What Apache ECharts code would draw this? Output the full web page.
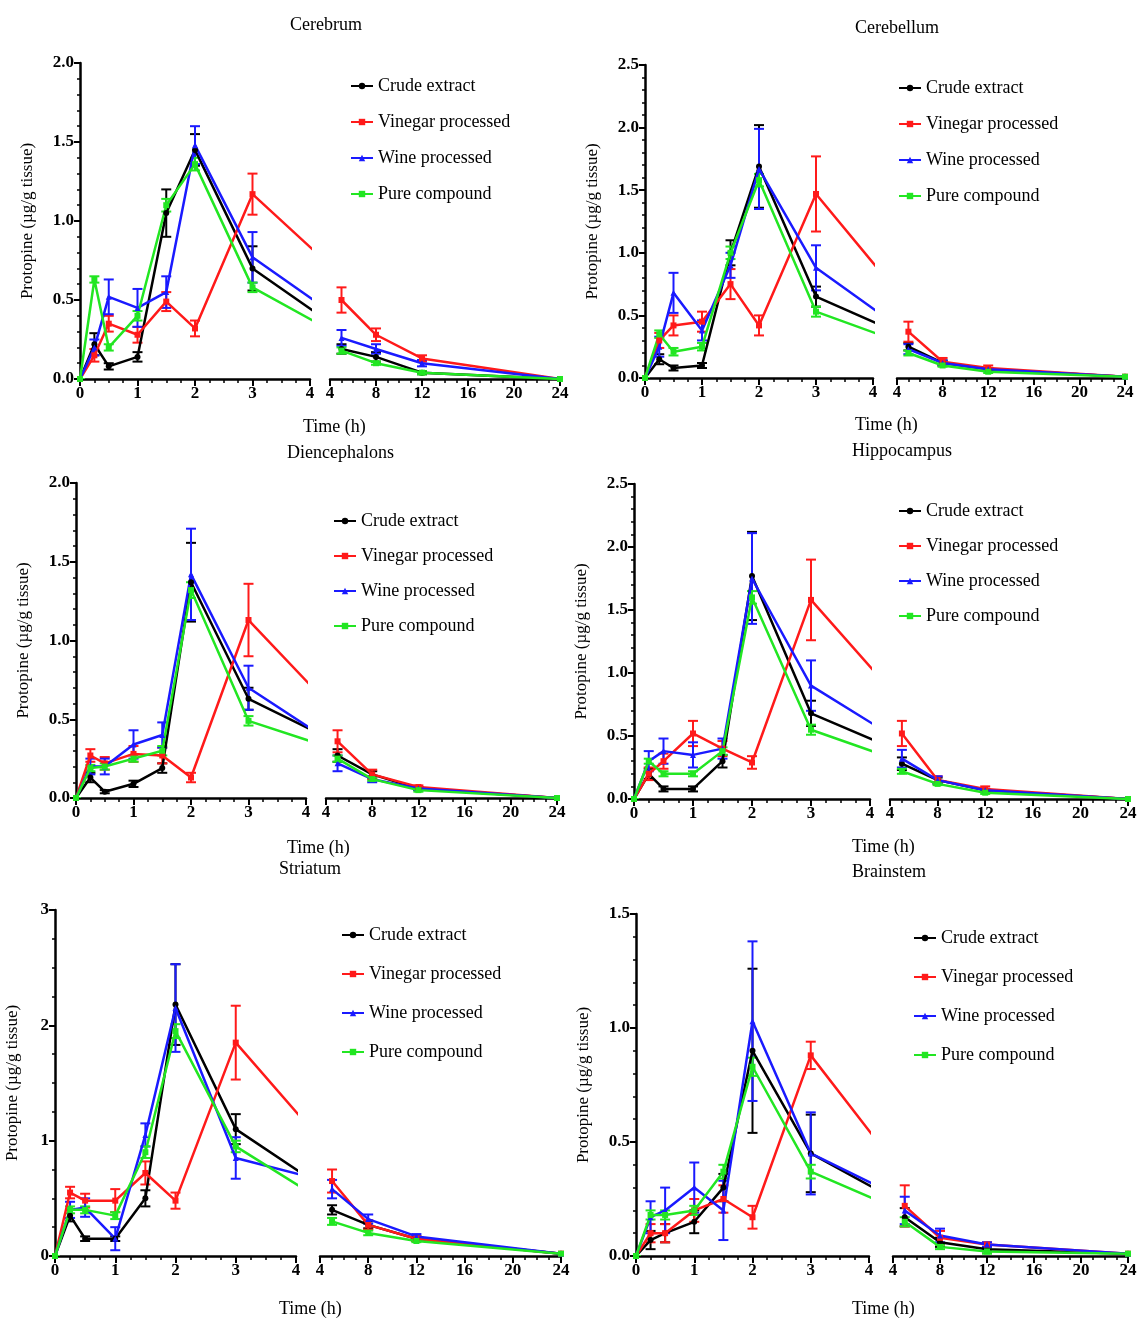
<!DOCTYPE html>
<html><head><meta charset="utf-8">
<script src="https://cdn.jsdelivr.net/npm/echarts@6/dist/echarts.min.js"></script>
<style>html,body{margin:0;padding:0;background:#fff}#c{width:1141px;height:1322px}</style>
</head><body><div id="c"></div>
<script>
const times = [0, 0.25, 0.5, 1, 1.5, 2, 3, 5, 8, 12, 24];
const seriesNames = ['Crude extract', 'Vinegar processed', 'Wine processed', 'Pure compound'];
const leftTicks = [0, 1, 2, 3, 4];
const rightTicks = [4, 8, 12, 16, 20, 24];

// rows: crude, vinegar, wine, pure
const cerebrumMean = [
  [0, 0.22, 0.08, 0.14, 1.05, 1.45, 0.7, 0.19, 0.14, 0.04, 0.0],
  [0, 0.15, 0.35, 0.28, 0.49, 0.32, 1.17, 0.5, 0.28, 0.13, 0.0],
  [0, 0.2, 0.52, 0.45, 0.55, 1.48, 0.77, 0.26, 0.19, 0.1, 0.0],
  [0, 0.63, 0.2, 0.4, 1.1, 1.36, 0.58, 0.18, 0.1, 0.04, 0.0]];
const cerebrumErr = [
  [0, 0.07, 0.02, 0.03, 0.15, 0.1, 0.14, 0.03, 0.03, 0.01, 0],
  [0, 0.04, 0.05, 0.05, 0.06, 0.05, 0.13, 0.08, 0.04, 0.02, 0],
  [0, 0.05, 0.11, 0.12, 0.1, 0.12, 0.16, 0.05, 0.03, 0.02, 0],
  [0, 0.02, 0.02, 0.03, 0.04, 0.04, 0.03, 0.02, 0.01, 0.01, 0]];
const cerebellumMean = [
  [0, 0.15, 0.08, 0.1, 1.0, 1.69, 0.65, 0.25, 0.12, 0.07, 0.01],
  [0, 0.3, 0.42, 0.45, 0.75, 0.42, 1.47, 0.37, 0.13, 0.08, 0.01],
  [0, 0.25, 0.68, 0.38, 0.9, 1.67, 0.88, 0.23, 0.12, 0.07, 0.01],
  [0, 0.35, 0.21, 0.25, 1.0, 1.58, 0.53, 0.2, 0.1, 0.05, 0.01]];
const cerebellumErr = [
  [0, 0.04, 0.02, 0.02, 0.1, 0.33, 0.08, 0.03, 0.02, 0.01, 0],
  [0, 0.06, 0.08, 0.08, 0.12, 0.08, 0.3, 0.08, 0.03, 0.02, 0],
  [0, 0.08, 0.16, 0.08, 0.1, 0.32, 0.18, 0.04, 0.02, 0.01, 0],
  [0, 0.03, 0.03, 0.03, 0.05, 0.05, 0.04, 0.02, 0.01, 0.01, 0]];
const diencephalonsMean = [
  [0, 0.13, 0.04, 0.09, 0.19, 1.37, 0.63, 0.27, 0.15, 0.06, 0.0],
  [0, 0.27, 0.22, 0.28, 0.27, 0.13, 1.13, 0.36, 0.15, 0.07, 0.0],
  [0, 0.2, 0.2, 0.34, 0.4, 1.42, 0.7, 0.22, 0.12, 0.06, 0.0],
  [0, 0.19, 0.2, 0.25, 0.3, 1.32, 0.49, 0.25, 0.12, 0.05, 0.0]];
const diencephalonsErr = [
  [0, 0.03, 0.01, 0.02, 0.03, 0.25, 0.07, 0.04, 0.02, 0.01, 0],
  [0, 0.04, 0.04, 0.05, 0.05, 0.03, 0.23, 0.07, 0.03, 0.01, 0],
  [0, 0.05, 0.05, 0.09, 0.08, 0.29, 0.14, 0.05, 0.02, 0.01, 0],
  [0, 0.02, 0.02, 0.02, 0.03, 0.05, 0.03, 0.02, 0.01, 0.01, 0]];
const hippocampusMean = [
  [0, 0.2, 0.08, 0.08, 0.3, 1.77, 0.68, 0.28, 0.15, 0.07, 0.0],
  [0, 0.2, 0.3, 0.52, 0.4, 0.29, 1.58, 0.52, 0.15, 0.08, 0.0],
  [0, 0.3, 0.38, 0.35, 0.4, 1.75, 0.9, 0.32, 0.15, 0.07, 0.0],
  [0, 0.3, 0.2, 0.2, 0.38, 1.6, 0.55, 0.22, 0.12, 0.05, 0.0]];
const hippocampusErr = [
  [0, 0.04, 0.02, 0.02, 0.05, 0.35, 0.1, 0.05, 0.02, 0.01, 0],
  [0, 0.05, 0.06, 0.1, 0.06, 0.05, 0.32, 0.1, 0.03, 0.02, 0],
  [0, 0.08, 0.1, 0.1, 0.08, 0.36, 0.2, 0.07, 0.03, 0.01, 0],
  [0, 0.02, 0.02, 0.02, 0.03, 0.05, 0.04, 0.02, 0.01, 0.01, 0]];
const striatumMean = [
  [0, 0.35, 0.15, 0.15, 0.5, 2.18, 1.1, 0.4, 0.27, 0.15, 0.02],
  [0, 0.55, 0.48, 0.48, 0.72, 0.48, 1.85, 0.65, 0.27, 0.15, 0.02],
  [0, 0.4, 0.42, 0.15, 1.05, 2.15, 0.85, 0.58, 0.32, 0.17, 0.02],
  [0, 0.4, 0.4, 0.35, 0.9, 1.95, 0.95, 0.3, 0.2, 0.13, 0.02]];
const striatumErr = [
  [0, 0.05, 0.02, 0.02, 0.07, 0.35, 0.13, 0.04, 0.03, 0.02, 0],
  [0, 0.05, 0.06, 0.1, 0.1, 0.07, 0.32, 0.1, 0.04, 0.02, 0],
  [0, 0.07, 0.08, 0.1, 0.1, 0.38, 0.18, 0.08, 0.04, 0.02, 0],
  [0, 0.03, 0.03, 0.03, 0.05, 0.06, 0.05, 0.03, 0.02, 0.01, 0]];
const brainstemMean = [
  [0, 0.07, 0.1, 0.15, 0.3, 0.9, 0.45, 0.17, 0.06, 0.03, 0.01],
  [0, 0.1, 0.1, 0.2, 0.25, 0.17, 0.88, 0.22, 0.08, 0.05, 0.01],
  [0, 0.17, 0.2, 0.3, 0.2, 1.03, 0.45, 0.2, 0.09, 0.05, 0.01],
  [0, 0.18, 0.18, 0.2, 0.37, 0.83, 0.37, 0.15, 0.04, 0.02, 0.01]];
const brainstemErr = [
  [0, 0.04, 0.04, 0.05, 0.06, 0.36, 0.17, 0.04, 0.02, 0.01, 0],
  [0, 0.04, 0.04, 0.05, 0.06, 0.05, 0.06, 0.09, 0.03, 0.01, 0],
  [0, 0.07, 0.1, 0.11, 0.13, 0.35, 0.18, 0.06, 0.03, 0.01, 0],
  [0, 0.02, 0.02, 0.02, 0.03, 0.04, 0.03, 0.02, 0.01, 0.01, 0]];

const colors = ['#000000', '#ff1a1a', '#1a1aff', '#22e622'];
const symbols = ['circle', 'rect', 'triangle', 'rect'];
const FONT = 'Liberation Serif';

const panels = [
  {title:'Cerebrum', mean:cerebrumMean, err:cerebrumErr, L:[80,310], R:[330,560], top:63, bot:379, ymax:2, iv:0.5, dec:1, tx:320, ty:16, xl:[333,418], lg:[345,72], gap:18},
  {title:'Cerebellum', mean:cerebellumMean, err:cerebellumErr, L:[645,873], R:[897,1125], top:65, bot:378, ymax:2.5, iv:0.5, dec:1, tx:885, ty:19, xl:[885,416], lg:[893,74], gap:18},
  {title:'Diencephalons', mean:diencephalonsMean, err:diencephalonsErr, L:[76,306], R:[326,557], top:483, bot:798, ymax:2, iv:0.5, dec:1, tx:317, ty:444, xl:[317,839], lg:[328,507], gap:17},
  {title:'Hippocampus', mean:hippocampusMean, err:hippocampusErr, L:[634,870], R:[890,1128], top:484, bot:799, ymax:2.5, iv:0.5, dec:1, tx:882, ty:442, xl:[882,838], lg:[893,497], gap:17},
  {title:'Striatum', mean:striatumMean, err:striatumErr, L:[55,296], R:[320,561], top:910, bot:1256, ymax:3, iv:1, dec:0, tx:309, ty:860, xl:[309,1300], lg:[336,921], gap:21},
  {title:'Brainstem', mean:brainstemMean, err:brainstemErr, L:[636,869], R:[893,1128], top:914, bot:1256, ymax:1.5, iv:0.5, dec:1, tx:882, ty:863, xl:[882,1300], lg:[908,924], gap:21}
];

const option = {animation:false, backgroundColor:'#fff', grid:[], xAxis:[], yAxis:[], series:[], legend:[], graphic:[]};
const axisLine = {show:true, lineStyle:{color:'#000', width:2.5}};
const axisLabel = {color:'#000', fontFamily:FONT, fontWeight:'bold', fontSize:17, margin:6};

panels.forEach((p, pi) => {
  [['L', 0, 4, 1], ['R', 4, 24, 4]].forEach(([side, mn, mx, iv], si) => {
    const g = option.grid.length;
    const ext = p[side];
    option.grid.push({left:ext[0], width:ext[1]-ext[0], top:p.top, height:p.bot-p.top});
    option.xAxis.push({gridIndex:g, type:'value', min:mn, max:mx, interval:iv,
      axisLine:axisLine, axisTick:{show:true, length:7, lineStyle:{width:2, color:'#000'}},
      minorTick:{show:true, splitNumber:4, length:4, lineStyle:{width:1.5, color:'#000'}},
      axisLabel:axisLabel, splitLine:{show:false}});
    option.yAxis.push({gridIndex:g, type:'value', min:0, max:p.ymax, interval:p.iv, show:si===0,
      axisLine:axisLine, axisTick:{show:true, length:6, lineStyle:{width:2, color:'#000'}},
      minorTick:{show:true, splitNumber:p.iv===1?4:5, length:3, lineStyle:{width:1.5, color:'#000'}},
      axisLabel:Object.assign({}, axisLabel, {formatter:v => v.toFixed(p.dec)}), splitLine:{show:false},
      name: si===0 ? 'Protopine (µg/g tissue)' : '', nameLocation:'middle', nameGap: p.dec ? 44 : 34,
      nameTextStyle:{color:'#000', fontFamily:FONT, fontSize:17}});
    const idx = times.map((t, i) => i).filter(i => si === 0 ? true : times[i] >= 4);
    p.mean.forEach((vals, k) => {
      const errData = idx.map(i => [times[i], vals[i] - p.err[k][i], vals[i] + p.err[k][i]]);
      option.series.push({type:'custom', xAxisIndex:g, yAxisIndex:g, clip:true, silent:true, z:3,
        data: errData,
        renderItem:(params, api) => {
          const lo = api.coord([api.value(0), Math.max(0, api.value(1))]);
          const hi = api.coord([api.value(0), api.value(2)]);
          const c = colors[k]; const hw = 5;
          return {type:'group', children:[
            {type:'line', shape:{x1:lo[0], y1:lo[1], x2:hi[0], y2:hi[1]}, style:{stroke:c, lineWidth:2}},
            {type:'line', shape:{x1:lo[0]-hw, y1:lo[1], x2:lo[0]+hw, y2:lo[1]}, style:{stroke:c, lineWidth:2}},
            {type:'line', shape:{x1:hi[0]-hw, y1:hi[1], x2:hi[0]+hw, y2:hi[1]}, style:{stroke:c, lineWidth:2}}]};
        }});
      option.series.push({type:'line', name:seriesNames[k], xAxisIndex:g, yAxisIndex:g, clip:true, z:4,
        data: idx.map(i => [times[i], vals[i]]), symbol:symbols[k], symbolSize:6, showAllSymbol:true,
        lineStyle:{color:colors[k], width:2.5}, itemStyle:{color:colors[k]}});
    });
    if (si === 0) {
      option.legend.push({orient:'vertical', left:p.lg[0], top:p.lg[1], itemGap:p.gap, itemWidth:22, itemHeight:8,
        data:seriesNames, textStyle:{color:'#000', fontFamily:FONT, fontSize:18}});
    }
  });
  option.graphic.push({type:'text', left:p.tx - 30, top:p.ty, style:{text:p.title, fill:'#000', font:'18px "Liberation Serif"', textAlign:'center'}});
  option.graphic.push({type:'text', left:p.xl[0] - 30, top:p.xl[1], style:{text:'Time (h)', fill:'#000', font:'18px "Liberation Serif"', textAlign:'center'}});
});

const chart = echarts.init(document.getElementById('c'), null, {renderer:'canvas'});
chart.setOption(option);
</script></body></html>
